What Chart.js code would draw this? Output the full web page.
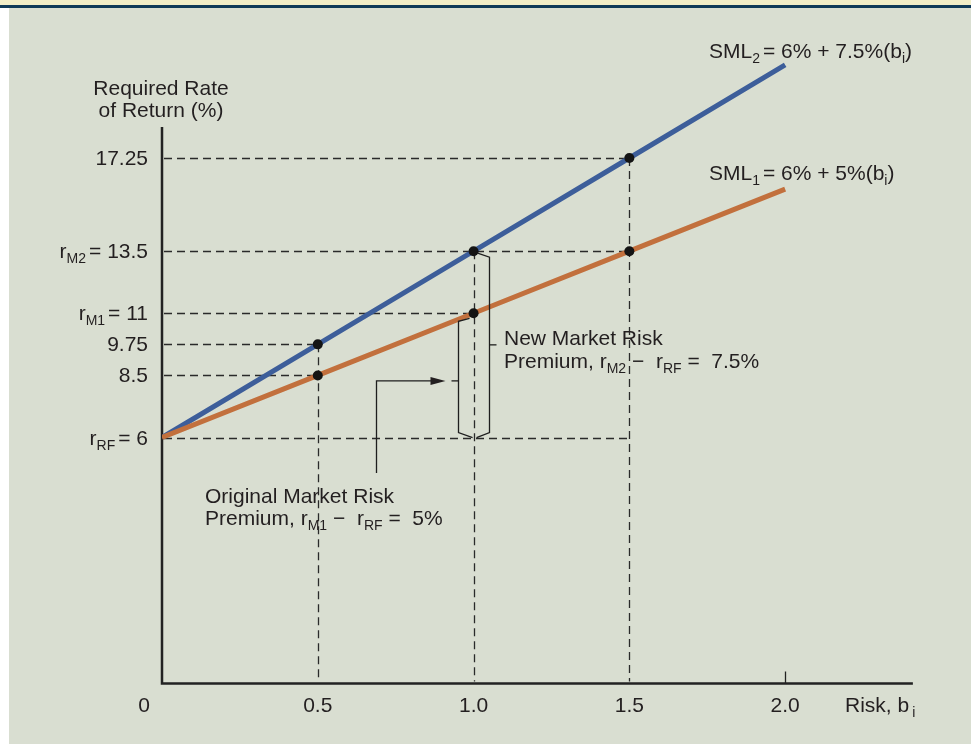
<!DOCTYPE html>
<html>
<head>
<meta charset="utf-8">
<title>Security Market Line</title>
<script src="https://cdn.jsdelivr.net/npm/chart.js@4.4.1/dist/chart.umd.min.js"></script>
<style>
  html, body { margin: 0; padding: 0; background: #ffffff; }
  canvas { display: block; }
</style>
</head>
<body>
<canvas id="sml" width="971" height="744" style="width:971px;height:744px"></canvas>
<script>
// Beta values and required returns on the two security market lines
const betas = [0, 0.5, 1.0, 1.5, 2.0];
const sml1 = [6, 8.5, 11, 13.5, 16];      // 6% + 5%(b)
const sml2 = [6, 9.75, 13.5, 17.25, 21];  // 6% + 7.5%(b)
const markedBetas = [0.5, 1.0, 1.5];

// Axis ticks
const xTickValues = [0, 0.5, 1.0, 1.5, 2.0];
const xTickLabels = ['0', '0.5', '1.0', '1.5', '2.0'];
const yTickValues = [17.25, 13.5, 11, 9.75, 8.5, 6];
const yTickNumbers = ['17.25', '13.5', '11', '9.75', '8.5', '6'];
const yTickSubscripts = ['', 'M2', 'M1', '', '', 'RF'];

const riskFree = 6;
const marketBeta = 1.0;

const FONT = '"Liberation Sans", Arial, Helvetica, sans-serif';
const MAIN = 21;
const SUB = 14;
const INK = '#231f20';

// Draw text made of normal and subscript runs; y is the baseline
function drawRich(ctx, x, y, segs, align) {
  const widths = segs.map(s => {
    ctx.font = (s.sub ? SUB : MAIN) + 'px ' + FONT;
    return ctx.measureText(s.t).width + (s.dx || 0);
  });
  const total = widths.reduce((a, b) => a + b, 0);
  let cx = align === 'right' ? x - total : align === 'center' ? x - total / 2 : x;
  ctx.textBaseline = 'alphabetic';
  ctx.textAlign = 'left';
  segs.forEach((s, i) => {
    ctx.font = (s.sub ? SUB : MAIN) + 'px ' + FONT;
    ctx.fillText(s.t, cx + (s.dx || 0), y + (s.sub ? 5 : 0));
    cx += widths[i];
  });
}

const backdrop = {
  id: 'backdrop',
  beforeDraw(chart) {
    const ctx = chart.ctx;
    ctx.save();
    ctx.fillStyle = '#ffffff';
    ctx.fillRect(0, 0, chart.width, chart.height);
    ctx.fillStyle = '#d9ded1';
    ctx.fillRect(9, 8, chart.width - 9, chart.height - 8);
    ctx.fillStyle = '#f1edc8';
    ctx.fillRect(0, 0, chart.width, 5);
    ctx.fillStyle = '#0f3a59';
    ctx.fillRect(0, 5, chart.width, 3);
    ctx.restore();
  }
};

const guides = {
  id: 'guides',
  beforeDatasetsDraw(chart) {
    const ctx = chart.ctx;
    const xs = chart.scales.x, ys = chart.scales.y;
    const x0 = xs.getPixelForValue(0);
    const yBottom = ys.getPixelForValue(ys.min);
    ctx.save();

    // Dashed guide lines from each marked point to both axes
    ctx.strokeStyle = '#2a2a2a';
    ctx.lineWidth = 1.3;
    ctx.setLineDash([8, 5]);
    const horiz = new Map();
    const farBeta = Math.max(...markedBetas);
    horiz.set(riskFree, farBeta);
    markedBetas.forEach(b => {
      const i = betas.indexOf(b);
      [sml1[i], sml2[i]].forEach(v => {
        horiz.set(v, Math.max(horiz.get(v) || 0, b));
      });
    });
    horiz.forEach((b, v) => {
      const y = Math.round(ys.getPixelForValue(v)) + 0.5;
      ctx.beginPath();
      ctx.moveTo(x0 + 2, y);
      ctx.lineTo(xs.getPixelForValue(b), y);
      ctx.stroke();
    });
    markedBetas.forEach(b => {
      const i = betas.indexOf(b);
      const top = Math.max(sml1[i], sml2[i]);
      const x = Math.round(xs.getPixelForValue(b)) + 0.5;
      ctx.beginPath();
      ctx.moveTo(x, ys.getPixelForValue(top));
      ctx.lineTo(x, yBottom - 2);
      ctx.stroke();
    });
    ctx.setLineDash([]);

    // Axes
    ctx.strokeStyle = '#222222';
    ctx.lineWidth = 2.5;
    ctx.beginPath();
    ctx.moveTo(x0, ys.getPixelForValue(18.5));
    ctx.lineTo(x0, yBottom);
    ctx.lineTo(xs.getPixelForValue(2.41), yBottom);
    ctx.stroke();
    // tick at 2.0
    ctx.lineWidth = 1.3;
    const xt = Math.round(xs.getPixelForValue(2.0)) + 0.5;
    ctx.beginPath();
    ctx.moveTo(xt, yBottom);
    ctx.lineTo(xt, yBottom - 12);
    ctx.stroke();
    ctx.restore();
  }
};

const annotations = {
  id: 'annotations',
  afterDatasetsDraw(chart) {
    const ctx = chart.ctx;
    const xs = chart.scales.x, ys = chart.scales.y;
    const px = v => xs.getPixelForValue(v);
    const py = v => ys.getPixelForValue(v);
    const mIdx = betas.indexOf(marketBeta);
    ctx.save();
    ctx.fillStyle = INK;
    ctx.strokeStyle = '#1e1e1e';
    ctx.lineWidth = 1.3;

    // Bracket for the original market risk premium (r_M1 - r_RF)
    const xm = px(marketBeta);
    const yRF = py(riskFree);
    const yM1 = py(sml1[mIdx]);
    const yM2 = py(sml2[mIdx]);
    const lb = Math.round(xm - 16) + 0.5;
    ctx.beginPath();
    ctx.moveTo(xm - 4, yM1 + 5);
    ctx.lineTo(lb, yM1 + 8);
    ctx.lineTo(lb, yRF - 5);
    ctx.lineTo(xm - 1, yRF);
    ctx.stroke();
    const yArrow = py(8.28);
    ctx.beginPath();
    ctx.moveTo(lb, yArrow);
    ctx.lineTo(lb - 7, yArrow);
    ctx.stroke();

    // Bracket for the new market risk premium (r_M2 - r_RF)
    const rb = Math.round(xm + 15) + 0.5;
    ctx.beginPath();
    ctx.moveTo(xm + 4, yM2 + 2);
    ctx.lineTo(rb, yM2 + 6);
    ctx.lineTo(rb, yRF - 5);
    ctx.lineTo(xm + 3, yRF);
    ctx.stroke();
    const yMid2 = (yM2 + 6 + yRF - 5) / 2;
    ctx.beginPath();
    ctx.moveTo(rb, yMid2);
    ctx.lineTo(rb + 7, yMid2);
    ctx.stroke();

    // Arrow from the original-premium note to its bracket
    const ax = Math.round(px(0.687)) + 0.5;
    const tip = lb - 13;
    ctx.beginPath();
    ctx.moveTo(ax, 473);
    ctx.lineTo(ax, yArrow);
    ctx.lineTo(tip - 12, yArrow);
    ctx.stroke();
    ctx.beginPath();
    ctx.moveTo(tip, yArrow);
    ctx.lineTo(tip - 15, yArrow - 4);
    ctx.lineTo(tip - 15, yArrow + 4);
    ctx.closePath();
    ctx.fill();

    // Y tick labels
    yTickValues.forEach((v, i) => {
      const y = py(v) + 7;
      const segs = yTickSubscripts[i]
        ? [{ t: 'r' }, { t: yTickSubscripts[i], sub: true }, { t: '= ' + yTickNumbers[i], dx: 3 }]
        : [{ t: yTickNumbers[i] }];
      drawRich(ctx, 148, y, segs, 'right');
    });

    // X tick labels
    xTickValues.forEach((v, i) => {
      const x = v === 0 ? px(0) - 18 : px(v);
      drawRich(ctx, x, 712, [{ t: xTickLabels[i] }], 'center');
    });
    drawRich(ctx, 845, 712, [{ t: 'Risk, b' }, { t: 'i', sub: true, dx: 3 }], 'left');

    // Y axis title
    drawRich(ctx, 161, 95, [{ t: 'Required Rate' }], 'center');
    drawRich(ctx, 161, 117, [{ t: 'of Return (%)' }], 'center');

    // Line labels
    drawRich(ctx, 709, 58, [{ t: 'SML' }, { t: '2', sub: true }, { t: '= 6% + 7.5%(b', dx: 3 }, { t: 'i', sub: true }, { t: ')' }], 'left');
    drawRich(ctx, 709, 180, [{ t: 'SML' }, { t: '1', sub: true }, { t: '= 6% + 5%(b', dx: 3 }, { t: 'i', sub: true }, { t: ')' }], 'left');

    // Premium notes
    drawRich(ctx, 504, 345, [{ t: 'New Market Risk' }], 'left');
    drawRich(ctx, 504, 368, [{ t: 'Premium, r' }, { t: 'M2', sub: true }, { t: ' \u2212  r' }, { t: 'RF', sub: true }, { t: ' =  7.5%' }], 'left');
    drawRich(ctx, 205, 503, [{ t: 'Original Market Risk' }], 'left');
    drawRich(ctx, 205, 525, [{ t: 'Premium, r' }, { t: 'M1', sub: true }, { t: ' \u2212  r' }, { t: 'RF', sub: true }, { t: ' =  5%' }], 'left');

    ctx.restore();
  }
};

const pointSize = ctx => markedBetas.includes(betas[ctx.dataIndex]) ? 5 : 0;

new Chart(document.getElementById('sml'), {
  type: 'line',
  data: {
    datasets: [
      {
        label: 'SML1',
        data: betas.map((b, i) => ({ x: b, y: sml1[i] })),
        borderColor: '#c2703d',
        borderWidth: 5,
        borderCapStyle: 'butt',
        pointRadius: pointSize,
        pointBackgroundColor: '#141414',
        pointBorderWidth: 0,
        tension: 0
      },
      {
        label: 'SML2',
        data: betas.map((b, i) => ({ x: b, y: sml2[i] })),
        borderColor: '#3d5e9a',
        borderWidth: 5,
        borderCapStyle: 'butt',
        pointRadius: pointSize,
        pointBackgroundColor: '#141414',
        pointBorderWidth: 0,
        tension: 0
      }
    ]
  },
  options: {
    responsive: false,
    animation: false,
    events: [],
    layout: { padding: { left: 162, right: 55, top: 40, bottom: 60.5 } },
    plugins: { legend: { display: false }, tooltip: { enabled: false } },
    scales: {
      x: { type: 'linear', min: 0, max: 2.42, display: false },
      y: { type: 'linear', min: -3.9, max: 22, display: false }
    }
  },
  plugins: [backdrop, guides, annotations]
});
</script>
</body>
</html>
